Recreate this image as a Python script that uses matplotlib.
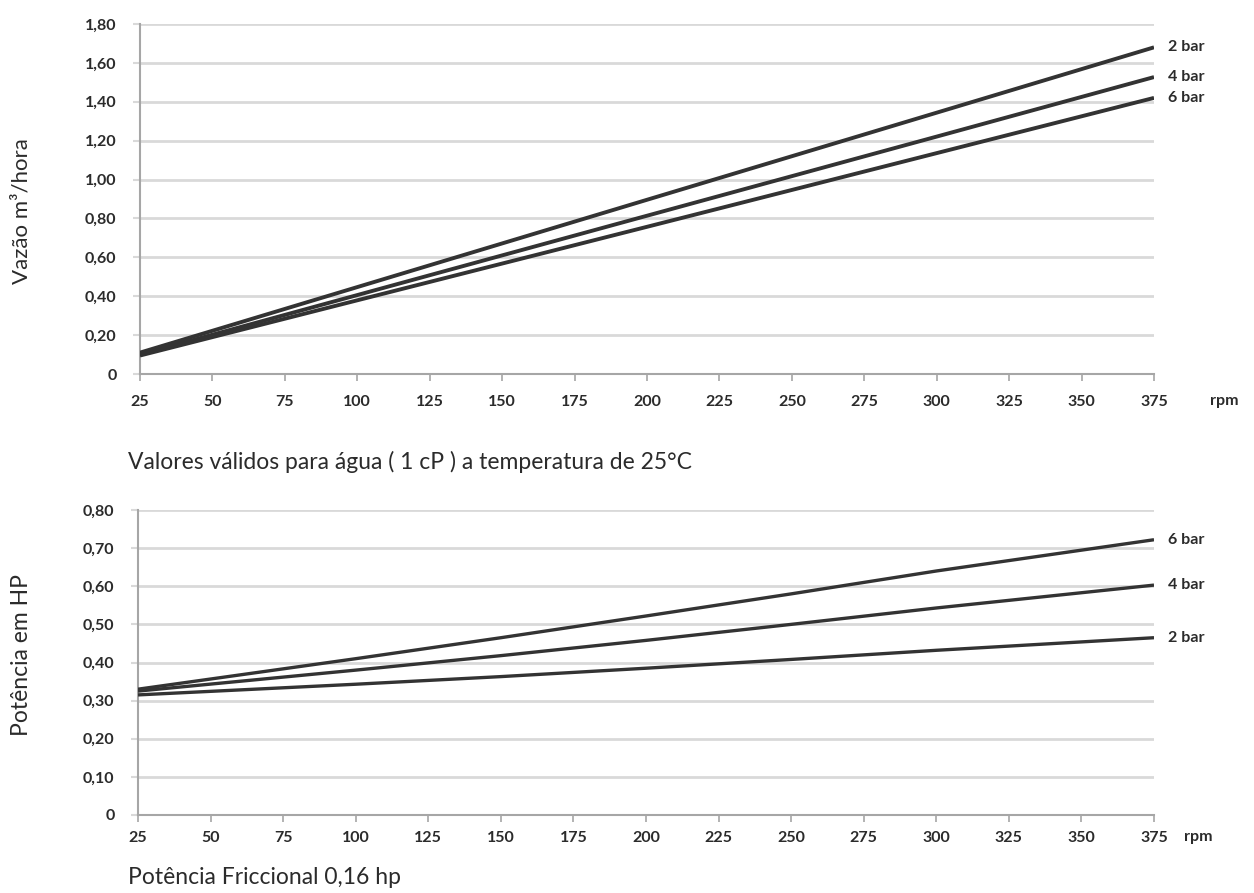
import matplotlib
matplotlib.use("Agg")
import matplotlib.pyplot as plt
from matplotlib.ticker import FuncFormatter

# --- data ---
rpm_ticks = list(range(25, 376, 25))

# flow (m3/h) vs rpm
flow_rpm = [25, 100, 200, 300, 375]
flow_2bar = [0.110, 0.447, 0.896, 1.344, 1.680]
flow_4bar = [0.100, 0.406, 0.814, 1.221, 1.527]
flow_6bar = [0.095, 0.379, 0.757, 1.136, 1.420]
flow_labels = ["2 bar", "4 bar", "6 bar"]

# power (HP) vs rpm
power_rpm = [25, 100, 150, 200, 250, 300, 375]
power_6bar = [0.330, 0.410, 0.465, 0.522, 0.580, 0.640, 0.722]
power_4bar = [0.325, 0.380, 0.418, 0.458, 0.500, 0.543, 0.603]
power_2bar = [0.315, 0.343, 0.363, 0.385, 0.408, 0.432, 0.465]
power_labels = ["6 bar", "4 bar", "2 bar"]

flow_yticks = [0, 0.2, 0.4, 0.6, 0.8, 1.0, 1.2, 1.4, 1.6, 1.8]
power_yticks = [0, 0.1, 0.2, 0.3, 0.4, 0.5, 0.6, 0.7, 0.8]

LINE = "#333333"
GRID = "#d9d9d9"
SPINE = "#a6a6a6"
TXT = "#2b2b2b"
FONT = ["Lato", "DejaVu Sans"]
TICK_FS = 11.5

plt.rcParams["font.family"] = FONT

W, H = 1254, 893
fig = plt.figure(figsize=(W / 100, H / 100), dpi=100)


def px_axes(left, top, right, bottom):
    return fig.add_axes([left / W, 1 - bottom / H, (right - left) / W, (bottom - top) / H])


def comma_fmt(v, pos):
    if abs(v) < 1e-9:
        return "0"
    return f"{v:.2f}".replace(".", ",")


def style_axes(ax, yticks, xpad):
    ax.set_xlim(25, 375)
    ax.set_ylim(yticks[0], yticks[-1])
    ax.set_xticks(rpm_ticks)
    ax.set_yticks(yticks)
    ax.yaxis.set_major_formatter(FuncFormatter(comma_fmt))
    ax.grid(axis="y", color=GRID, linewidth=2, zorder=0)
    ax.set_axisbelow(True)
    for side in ["top", "right"]:
        ax.spines[side].set_visible(False)
    for side in ["left", "bottom"]:
        ax.spines[side].set_color(SPINE)
        ax.spines[side].set_linewidth(1.5)
    ax.tick_params(axis="y", length=5, width=1.5, color=GRID, pad=12,
                   labelsize=TICK_FS, labelcolor=TXT)
    ax.tick_params(axis="x", length=5, width=1.2, color=SPINE, pad=xpad,
                   labelsize=TICK_FS, labelcolor=TXT)
    for lab in ax.get_xticklabels() + ax.get_yticklabels():
        lab.set_fontweight("bold")


def end_labels(ax, series, labels):
    for ys, lab in zip(series, labels):
        ax.annotate(lab, (375, ys[-1]), xytext=(10, 0), textcoords="offset points",
                    va="center", ha="left", fontsize=TICK_FS, fontweight="bold",
                    color=TXT, annotation_clip=False)


# top chart: flow
ax1 = px_axes(140, 24, 1154, 374)
flow_series = [flow_2bar, flow_4bar, flow_6bar]
for ys in flow_series:
    ax1.plot(flow_rpm, ys, color=LINE, linewidth=2.8, solid_capstyle="butt", zorder=3)
style_axes(ax1, flow_yticks, 10)
end_labels(ax1, flow_series, flow_labels)

# bottom chart: power
ax2 = px_axes(138, 510, 1154, 815)
power_series = [power_6bar, power_4bar, power_2bar]
for ys in power_series:
    ax2.plot(power_rpm, ys, color=LINE, linewidth=2.4, solid_capstyle="butt", zorder=3)
style_axes(ax2, power_yticks, 6.5)
end_labels(ax2, power_series, power_labels)

# free text
fig.text(1224 / W, 1 - 401 / H, "rpm", fontsize=TICK_FS, fontweight="bold", color=TXT,
         ha="center", va="center")
fig.text(1198 / W, 1 - 837 / H, "rpm", fontsize=TICK_FS, fontweight="bold", color=TXT,
         ha="center", va="center")
fig.text(22 / W, 1 - 211 / H, "Vazão m³/hora", rotation=90, fontsize=16, color=TXT,
         ha="center", va="center")
fig.text(22 / W, 1 - 655 / H, "Potência em HP", rotation=90, fontsize=16.5, color=TXT,
         ha="center", va="center")
fig.text(128 / W, 1 - 462 / H, "Valores válidos para água ( 1 cP ) a temperatura de 25°C",
         fontsize=16.5, color=TXT, ha="left", va="center")
fig.text(128 / W, 1 - 878 / H, "Potência Friccional 0,16 hp",
         fontsize=16.5, color=TXT, ha="left", va="center")

fig.savefig("out.png", dpi=100)
